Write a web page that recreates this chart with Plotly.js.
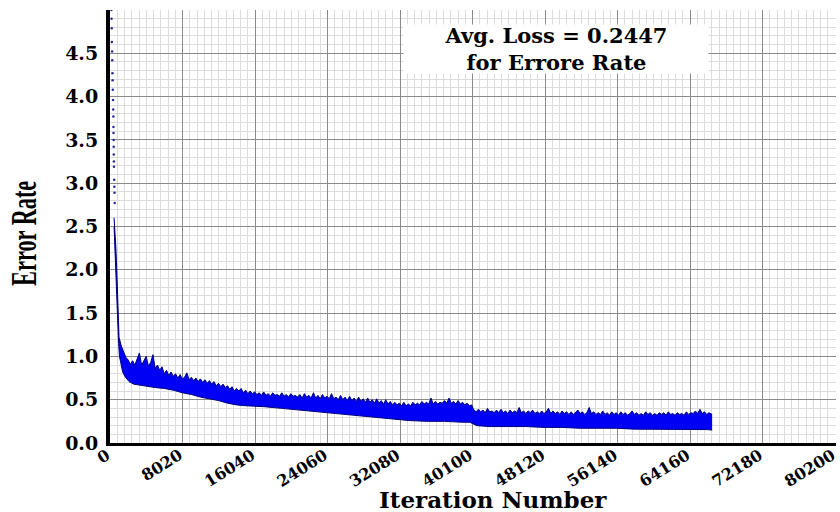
<!DOCTYPE html>
<html><head><meta charset="utf-8">
<script src="https://cdn.plot.ly/plotly-3.0.1.min.js"></script>
<style>html,body{margin:0;padding:0;background:#fff}#chart{width:840px;height:512px}</style>
</head><body><div id="chart"></div>
<script>
// sparse early iterations (very high loss)
const earlyIter = [150, 170, 190, 210, 230, 250, 270, 290, 310, 330, 350, 370, 380, 390, 400, 410, 420, 430, 440, 460, 480, 500, 520];
const earlyErr  = [5.00, 4.90, 4.79, 4.63, 4.52, 4.42, 4.27, 4.19, 4.08, 3.96, 3.85, 3.77, 3.65, 3.58, 3.50, 3.42, 3.33, 3.25, 3.19, 3.04, 2.96, 2.89, 2.77];

// lower envelope of the loss band
const lowerIter = [450, 550, 650, 750, 850, 950, 1050, 1200, 1400, 1700, 2100, 2600, 3200, 4000, 5000, 6000, 7000, 8000, 9000, 10000, 11000, 12000, 13000, 14000, 15000, 17000, 19000, 21000, 23000, 25000, 27000, 29000, 31000, 33000, 35000, 37000, 39000, 39800, 40600, 42000, 44000, 46000, 48000, 50000, 52000, 54000, 56000, 58000, 60000, 62000, 64000, 66000, 66600];
const lowerErr  = [2.50, 2.20, 1.90, 1.60, 1.35, 1.15, 1.00, 0.90, 0.82, 0.76, 0.71, 0.68, 0.67, 0.65, 0.64, 0.63, 0.61, 0.58, 0.56, 0.53, 0.51, 0.49, 0.46, 0.44, 0.43, 0.42, 0.40, 0.38, 0.36, 0.34, 0.32, 0.30, 0.28, 0.26, 0.25, 0.25, 0.24, 0.24, 0.20, 0.19, 0.19, 0.19, 0.18, 0.18, 0.17, 0.17, 0.17, 0.16, 0.16, 0.16, 0.16, 0.155, 0.15];

// upper envelope of the loss band (spiky)
const upperIter = [450, 550, 650, 750, 850, 950,
  1000, 1250, 1500, 1750, 2000, 2250, 2500, 2750, 3000, 3250, 3500, 3750, 4000, 4250, 4500, 4750, 5000, 5250, 5500, 5750,
  6000, 6250, 6500, 6750, 7000, 7250, 7500, 7750, 8000, 8250, 8500, 8750, 9000, 9250, 9500, 9750, 10000, 10250, 10500, 10750,
  11000, 11250, 11500, 11750, 12000, 12250, 12500, 12750, 13000, 13250, 13500, 13750, 14000, 14250, 14500, 14750, 15000, 15250, 15500, 15750,
  16000, 16250, 16500, 16750, 17000, 17250, 17500, 17750, 18000, 18250, 18500, 18750, 19000, 19250, 19500, 19750, 20000, 20250, 20500, 20750,
  21000, 21250, 21500, 21750, 22000, 22250, 22500, 22750, 23000, 23250, 23500, 23750, 24000, 24250, 24500, 24750, 25000, 25250, 25500, 25750,
  26000, 26250, 26500, 26750, 27000, 27250, 27500, 27750, 28000, 28250, 28500, 28750, 29000, 29250, 29500, 29750, 30000, 30250, 30500, 30750,
  31000, 31250, 31500, 31750, 32000, 32250, 32500, 32750, 33000, 33250, 33500, 33750, 34000, 34250, 34500, 34750, 35000, 35250, 35500, 35750,
  36000, 36250, 36500, 36750, 37000, 37250, 37500, 37750, 38000, 38250, 38500, 38750, 39000, 39250, 39500, 39750, 40000, 40250, 40500, 40750,
  41000, 41250, 41500, 41750, 42000, 42250, 42500, 42750, 43000, 43250, 43500, 43750, 44000, 44250, 44500, 44750, 45000, 45250, 45500, 45750,
  46000, 46250, 46500, 46750, 47000, 47250, 47500, 47750, 48000, 48250, 48500, 48750, 49000, 49250, 49500, 49750, 50000, 50250, 50500, 50750,
  51000, 51250, 51500, 51750, 52000, 52250, 52500, 52750, 53000, 53250, 53500, 53750, 54000, 54250, 54500, 54750, 55000, 55250, 55500, 55750,
  56000, 56250, 56500, 56750, 57000, 57250, 57500, 57750, 58000, 58250, 58500, 58750, 59000, 59250, 59500, 59750, 60000, 60250, 60500, 60750,
  61000, 61250, 61500, 61750, 62000, 62250, 62500, 62750, 63000, 63250, 63500, 63750, 64000, 64250, 64500, 64750, 65000, 65250, 65500, 65750,
  66000, 66250, 66600];
const upperErr  = [2.60, 2.45, 2.25, 2.00, 1.72, 1.45,
  1.22, 1.12, 1.06, 0.99, 0.96, 0.91, 0.95, 0.90, 0.97, 1.04, 0.90, 0.95, 1.00, 0.89, 0.93, 1.02, 0.86, 0.90, 0.84, 0.88,
  0.80, 0.84, 0.78, 0.82, 0.77, 0.80, 0.75, 0.79, 0.74, 0.76, 0.81, 0.73, 0.76, 0.72, 0.75, 0.71, 0.74, 0.70, 0.73, 0.69,
  0.72, 0.68, 0.71, 0.66, 0.69, 0.65, 0.68, 0.64, 0.66, 0.62, 0.65, 0.60, 0.63, 0.60, 0.63, 0.58, 0.61, 0.57, 0.60, 0.57,
  0.59, 0.56, 0.58, 0.55, 0.59, 0.55, 0.57, 0.54, 0.58, 0.55, 0.56, 0.54, 0.58, 0.54, 0.56, 0.53, 0.57, 0.54, 0.55, 0.53,
  0.56, 0.52, 0.57, 0.53, 0.55, 0.52, 0.58, 0.52, 0.55, 0.51, 0.56, 0.52, 0.54, 0.51, 0.57, 0.51, 0.53, 0.50, 0.55, 0.50,
  0.53, 0.49, 0.54, 0.49, 0.52, 0.48, 0.53, 0.48, 0.51, 0.47, 0.52, 0.47, 0.50, 0.46, 0.51, 0.46, 0.49, 0.45, 0.50, 0.45,
  0.48, 0.44, 0.47, 0.44, 0.46, 0.43, 0.47, 0.43, 0.45, 0.43, 0.47, 0.44, 0.46, 0.44, 0.48, 0.45, 0.47, 0.45, 0.52, 0.45,
  0.48, 0.45, 0.47, 0.46, 0.49, 0.46, 0.52, 0.46, 0.48, 0.45, 0.49, 0.45, 0.47, 0.44, 0.46, 0.43, 0.44, 0.38, 0.36, 0.39,
  0.36, 0.38, 0.35, 0.40, 0.36, 0.37, 0.35, 0.38, 0.35, 0.39, 0.35, 0.37, 0.34, 0.38, 0.35, 0.37, 0.35, 0.41, 0.35, 0.37,
  0.34, 0.37, 0.35, 0.38, 0.34, 0.36, 0.34, 0.37, 0.34, 0.36, 0.40, 0.34, 0.37, 0.34, 0.36, 0.33, 0.37, 0.34, 0.36, 0.33,
  0.36, 0.33, 0.35, 0.38, 0.34, 0.36, 0.33, 0.35, 0.41, 0.34, 0.36, 0.33, 0.35, 0.33, 0.37, 0.33, 0.35, 0.32, 0.36, 0.33,
  0.35, 0.32, 0.36, 0.33, 0.35, 0.32, 0.34, 0.37, 0.33, 0.35, 0.32, 0.34, 0.32, 0.36, 0.33, 0.35, 0.32, 0.34, 0.32, 0.35,
  0.33, 0.35, 0.32, 0.36, 0.33, 0.34, 0.32, 0.35, 0.33, 0.34, 0.32, 0.36, 0.33, 0.35, 0.34, 0.37, 0.34, 0.39, 0.34, 0.36,
  0.33, 0.35, 0.33];

const xTickVals = [0, 8020, 16040, 24060, 32080, 40100, 48120, 56140, 64160, 72180, 80200];
const xTickText = ['0', '8020', '16040', '24060', '32080', '40100', '48120', '56140', '64160', '72180', '80200'];
const yTickVals = [0, 0.5, 1.0, 1.5, 2.0, 2.5, 3.0, 3.5, 4.0, 4.5];
const yTickText = ['0.0', '0.5', '1.0', '1.5', '2.0', '2.5', '3.0', '3.5', '4.0', '4.5'];

const boxText = 'Avg. Loss = 0.2447<br>for Errore Rate';
const xTitle = 'Iteration Number';
const yTitle = 'Error Rate';

const traces = [
  {x: lowerIter, y: lowerErr, type: 'scatter', mode: 'lines',
   line: {color: '#00007a', width: 1}, hoverinfo: 'skip', showlegend: false},
  {x: upperIter, y: upperErr, type: 'scatter', mode: 'lines', fill: 'tonexty',
   fillcolor: '#0000f5', line: {color: '#000080', width: 1}, showlegend: false},
  {x: earlyIter, y: earlyErr, type: 'scatter', mode: 'markers',
   marker: {color: '#2a2a9a', size: 2.5}, showlegend: false}
];

const serifBold = '"DejaVu Serif", "Liberation Serif", serif';

const layout = {
  width: 840, height: 512,
  margin: {l: 110, r: 4, t: 9.5, b: 68.5},
  paper_bgcolor: '#ffffff', plot_bgcolor: '#ffffff',
  showlegend: false,
  xaxis: {
    range: [0, 80300], tickmode: 'array', tickvals: xTickVals, ticktext: xTickText,
    tickangle: -32, ticks: '', ticklabeloverflow: 'allow', ticklabelstandoff: -6, ticklabelshift: -3,
    tickfont: {family: serifBold, size: 16, color: '#000', weight: 'bold'},
    showgrid: true, gridcolor: '#8a8a8a', gridwidth: 1,
    minor: {tickmode: 'linear', tick0: 0, dtick: 802, showgrid: true, gridcolor: '#dcdcdc', gridwidth: 1},
    showline: true, linecolor: '#000', linewidth: 3, zeroline: false
  },
  yaxis: {
    range: [0, 5.0], tickmode: 'array', tickvals: yTickVals, ticktext: yTickText,
    ticks: '', ticklabelstandoff: 4,
    tickfont: {family: serifBold, size: 19, color: '#000', weight: 'bold'},
    showgrid: true, gridcolor: '#8a8a8a', gridwidth: 1,
    minor: {tickmode: 'linear', tick0: 0, dtick: 0.1, showgrid: true, gridcolor: '#dcdcdc', gridwidth: 1},
    showline: true, linecolor: '#000', linewidth: 4, zeroline: false
  },
  annotations: [
    {xref: 'paper', yref: 'paper', x: 0.614, y: 0.910, xanchor: 'center', yanchor: 'middle',
     text: boxText, showarrow: false,
     font: {family: serifBold, size: 21, color: '#000', weight: 'bold'},
     bgcolor: '#ffffff', width: 304, height: 48, align: 'center', borderpad: 0},
    {xref: 'paper', yref: 'paper', x: 0.5275, y: -0.131, xanchor: 'center', yanchor: 'middle',
     text: xTitle, showarrow: false,
     font: {family: serifBold, size: 23, color: '#000', weight: 'bold'}},
    {xref: 'paper', yref: 'paper', x: -0.118, y: 0.485, xanchor: 'center', yanchor: 'middle',
     text: yTitle, showarrow: false, textangle: -90,
     font: {family: '"Liberation Serif", "Times New Roman", serif', size: 36, color: '#000', weight: 'bold'}}
  ]
};

Plotly.newPlot('chart', traces, layout, {staticPlot: true, displayModeBar: false}).then(function () {
  // condense the tall y title along its reading direction, like the reference lettering
  try {
    const anns = document.querySelectorAll('.annotation');
    const g = anns[2].querySelector('.annotation-text-g');
    const tr = g.getAttribute('transform') || '';
    const m = tr.match(/rotate\(\s*(-?[\d.]+)[ ,]+(-?[\d.]+)[ ,]+(-?[\d.]+)\s*\)/);
    if (m) {
      const cx = m[2], cy = m[3];
      g.setAttribute('transform', tr + ' translate(' + cx + ',' + cy + ') scale(0.62,1) translate(' + (-cx) + ',' + (-cy) + ')');
    }
  } catch (e) {}
});
</script>
</body></html>
